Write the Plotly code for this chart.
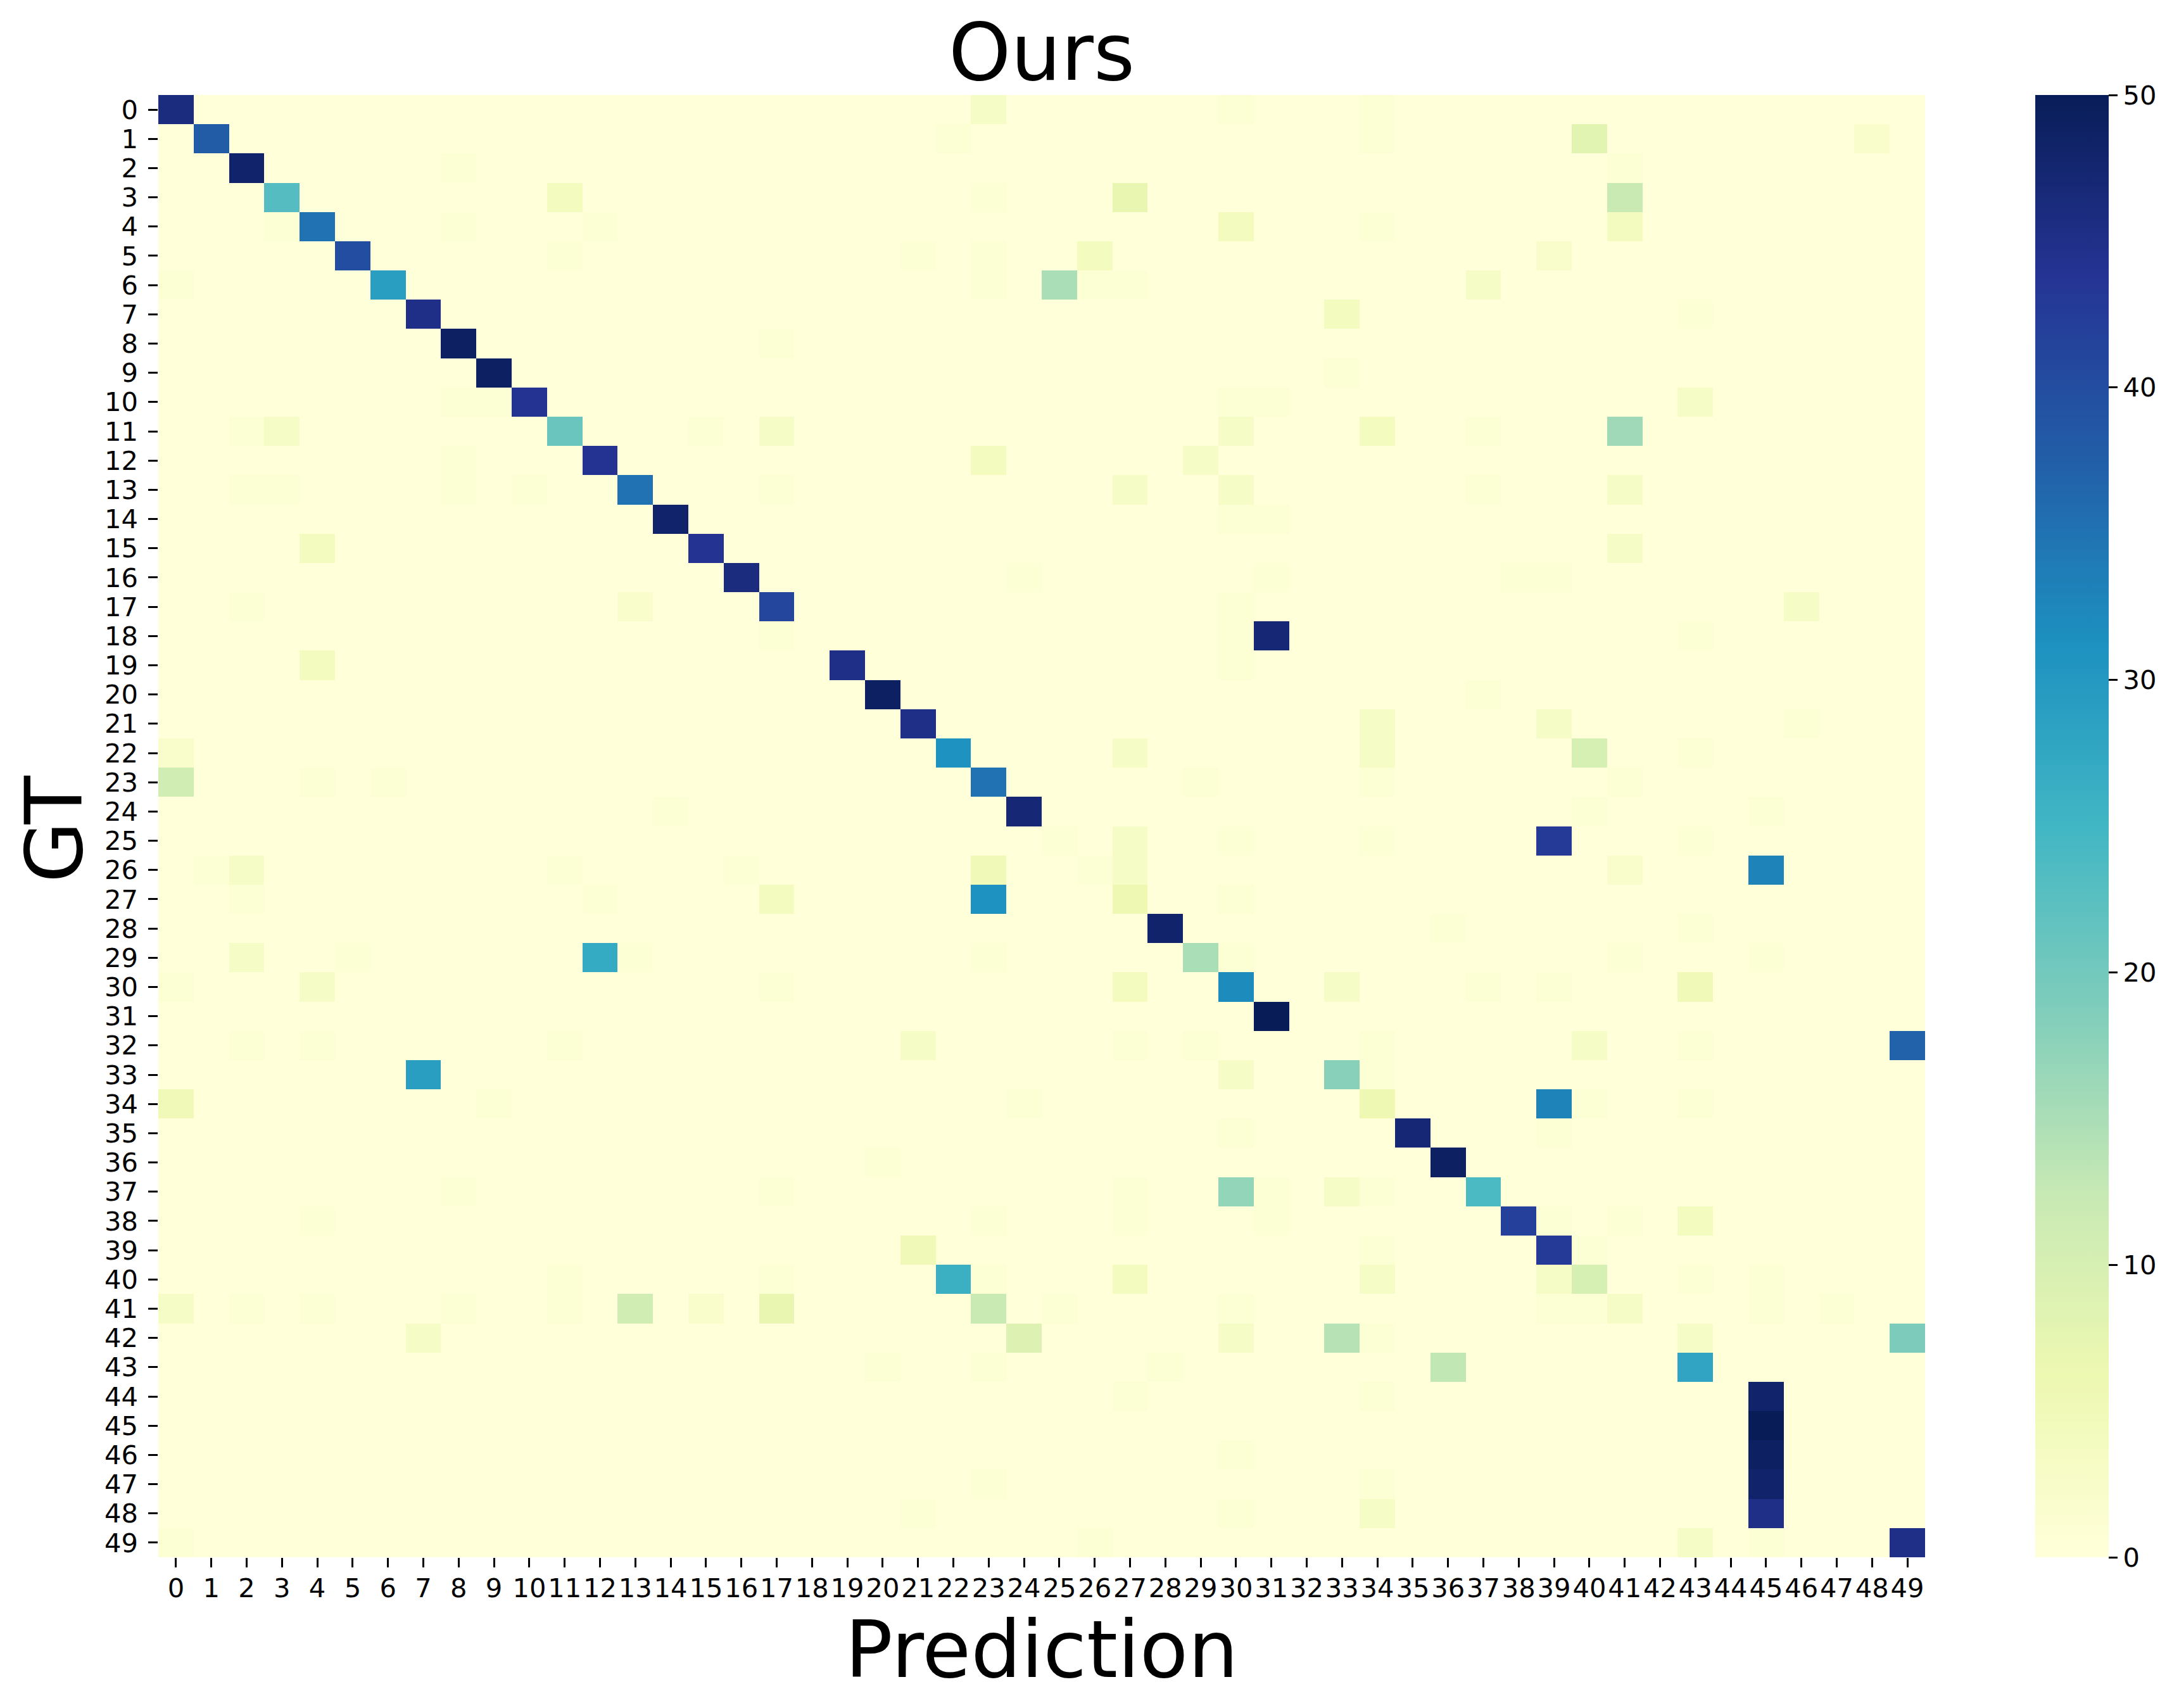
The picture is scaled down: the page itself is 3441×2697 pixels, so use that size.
import plotly.graph_objects as go

W, H = 3441, 2697
L, R, T, B = 250, 3040, 150, 2459
FONT = "DejaVu Sans"
TICK_PX = 41.67
LABEL_PX = 125

classes = list(range(50))
title_text = "Ours"
x_label = "Prediction"
y_label = "GT"
colorbar_ticks = [0, 10, 20, 30, 40, 50]
value_max = 50

# Strongest cell of each row: gt row is the list index
main_pred = [0,1,2,3,4,5,6,7,8,9,10,11,12,13,14,15,16,17,31,19,20,21,22,23,24,39,45,23,28,29,30,31,49,33,39,35,36,37,38,39,22,23,49,43,45,45,45,45,45,49]
main_count = [46,38,48,23,35,40,29,45,49,49,44,21,44,35,48,44,46,41,47,45,49,45,31,35,47,43,33,31,48,15,32,50,37,18,33,47,49,24,42,43,26,12,19,28,48,50,49,48,45,45]

# Remaining cells, gt row by gt row
minor_gt = [0,0,0,
            1,1,1,1,
            2,2,
            3,3,3,3,
            4,4,4,4,4,4,
            5,5,5,5,5,
            6,6,6,6,6,6,
            7,7,
            8,
            9,
            10,10,10,10,10,
            11,11,11,11,11,11,11,11,
            12,12,12,
            13,13,13,13,13,13,13,13,13,
            14,14,
            15,15,
            16,16,16,16,
            17,17,17,17,
            18,18,18,
            19,19,
            20,
            21,21,21,
            22,22,22,22,22,
            23,23,23,23,23,23,
            24,24,24,
            25,25,25,25,25,
            26,26,26,26,26,26,26,26,
            27,27,27,27,27,
            28,28,
            29,29,29,29,29,29,29,29,
            30,30,30,30,30,30,30,30,
            32,32,32,32,32,32,32,32,32,
            33,33,33,
            34,34,34,34,34,34,
            35,35,
            36,
            37,37,37,37,37,37,37,
            38,38,38,38,38,38,38,
            39,39,39,
            40,40,40,40,40,40,40,40,40,40,
            41,41,41,41,41,41,41,41,41,41,41,41,41,41,41,41,
            42,42,42,42,42,42,
            43,43,43,43,
            44,44,
            46,
            47,47,
            48,48,48,
            49,49,49,49]
minor_pred = [23,30,34,
              22,34,40,48,
              8,41,
              11,23,27,41,
              3,8,12,30,34,41,
              11,21,23,26,39,
              0,23,25,26,27,37,
              33,43,
              17,
              33,
              8,9,30,31,43,
              2,3,15,17,30,34,37,41,
              8,23,29,
              2,3,8,10,17,27,30,37,41,
              30,31,
              4,41,
              24,31,38,39,
              2,13,30,46,
              17,30,43,
              4,30,
              37,
              34,39,46,
              0,27,34,40,43,
              0,4,6,29,34,41,
              14,40,45,
              25,27,30,34,43,
              1,2,11,16,23,26,27,41,
              2,12,17,27,30,
              36,43,
              2,5,12,13,23,30,41,45,
              0,4,17,27,33,37,39,43,
              2,4,11,21,27,29,34,40,43,
              7,30,34,
              0,9,24,34,40,43,
              30,39,
              20,
              8,17,27,30,31,33,34,
              4,23,27,31,39,41,43,
              21,34,40,
              11,17,23,27,34,39,40,43,45,22,
              0,2,4,8,11,13,15,17,23,25,30,39,40,41,45,47,
              7,24,30,33,34,43,
              20,23,28,36,
              27,34,
              30,
              23,34,
              21,30,34,
              0,26,43,45]
minor_count = [3,1,1,
               1,1,8,2,
               1,1,
               4,1,7,12,
               1,1,1,4,1,4,
               1,1,1,4,2,
               1,1,15,1,1,3,
               4,1,
               1,
               1,
               1,1,1,1,3,
               1,3,1,3,3,4,1,16,
               1,4,3,
               1,1,1,1,1,3,3,1,3,
               1,1,
               4,3,
               1,1,1,1,
               1,2,1,3,
               1,1,1,
               4,1,
               1,
               3,3,1,
               2,3,3,10,1,
               11,1,1,1,1,1,
               1,1,1,
               1,3,1,1,1,
               1,3,1,1,5,1,3,2,
               1,1,4,6,1,
               1,1,
               3,1,27,1,1,1,1,1,
               1,3,1,4,3,1,1,5,
               1,1,1,3,1,1,1,3,1,
               29,3,1,
               5,1,1,6,1,1,
               1,1,
               1,
               1,1,1,17,1,3,1,
               1,1,1,1,1,1,4,
               5,1,1,
               1,1,1,4,3,3,10,1,1,26,
               3,1,1,1,1,11,2,7,12,1,1,1,1,3,1,1,
               3,9,3,14,1,3,
               1,1,1,13,
               1,1,
               1,
               1,1,
               1,1,3,
               1,1,3,1]
assert len(minor_gt) == len(minor_pred) == len(minor_count)

# Row 40 and 41 hold their strongest cell off-diagonal; their diagonal cells come from the lists above
main_count[41] = 12
main_pred[40], main_count[40] = 40, 10

matrix = [[0 for _ in classes] for _ in classes]
for r, c, v in zip(minor_gt, minor_pred, minor_count):
    matrix[r][c] = v
for r, (c, v) in enumerate(zip(main_pred, main_count)):
    matrix[r][c] = v

fig = go.Figure(go.Heatmap(
    z=matrix, x=classes, y=classes,
    colorscale="YlGnBu", zmin=0, zmax=value_max,
    hoverinfo="skip",
    colorbar=dict(
        x=(3214 - L) / (R - L), xanchor="left", xref="paper", xpad=0,
        y=1, yanchor="top", yref="paper", ypad=0,
        thickness=116, thicknessmode="pixels",
        len=1, lenmode="fraction",
        outlinewidth=0, borderwidth=0,
        tickmode="array", tickvals=colorbar_ticks, ticktext=[str(v) for v in colorbar_ticks],
        ticks="outside", ticklen=14.6, tickwidth=3.3, tickcolor="black",
        tickfont=dict(family=FONT, size=TICK_PX, color="black"),
    ),
))

axis_common = dict(
    tickmode="array", tickvals=classes, ticktext=[str(c) for c in classes],
    ticks="outside", ticklen=14.6, tickwidth=3.3, tickcolor="black",
    tickfont=dict(family=FONT, size=TICK_PX, color="black"),
    showgrid=False, zeroline=False, showline=False, tickangle=0,
)

fig.update_layout(
    width=W, height=H, autosize=False,
    paper_bgcolor="white", plot_bgcolor="white",
    margin=dict(l=L, r=W - R, t=T, b=H - B, pad=0, autoexpand=False),
    font=dict(family=FONT, color="black"),
    title=dict(text=title_text, font=dict(family=FONT, size=LABEL_PX, color="black"),
               x=(L + R) / 2 / W, xanchor="center", xref="container",
               y=1 - 82 / H, yanchor="middle", yref="container"),
    xaxis=dict(range=[-0.5, 49.5], ticklabelstandoff=-3,
               title=dict(text=x_label, font=dict(family=FONT, size=LABEL_PX, color="black"), standoff=7),
               **axis_common),
    yaxis=dict(range=[49.5, -0.5], ticklabelstandoff=8, **axis_common),
    annotations=[dict(
        text=y_label, textangle=-90, showarrow=False,
        xref="paper", yref="paper",
        x=(85.5 - L) / (R - L), y=1 - (1309.5 - T) / (B - T),
        xanchor="center", yanchor="middle",
        font=dict(family=FONT, size=LABEL_PX, color="black"),
    )],
)

fig.write_html("out.html", config=dict(displayModeBar=False),
               post_script="document.body.style.margin='0';document.documentElement.style.margin='0';")
